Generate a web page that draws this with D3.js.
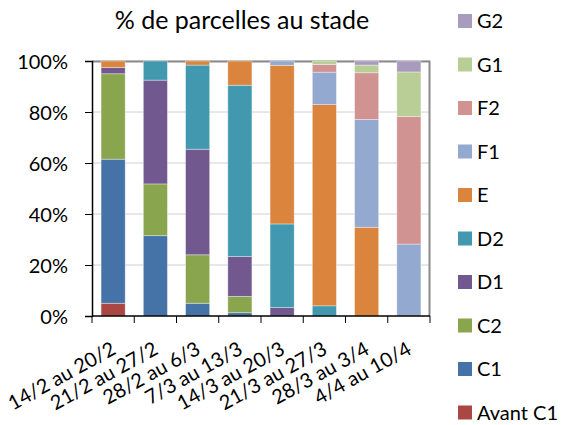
<!DOCTYPE html>
<html>
<head>
<meta charset="utf-8">
<script src="https://cdn.jsdelivr.net/npm/d3@7"></script>
<style>
  body { margin: 0; background: #fff; }
  svg text { font-family: Lato, "Open Sans", sans-serif; fill: #000; }
</style>
</head>
<body>
<div id="chart"></div>
<script>
// periods on x axis
var periods = ["14/2 au 20/2", "21/2 au 27/2", "28/2 au 6/3", "7/3 au 13/3",
               "14/3 au 20/3", "21/3 au 27/3", "28/3 au 3/4", "4/4 au 10/4"];

// stages, bottom to top
var stages = ["Avant C1", "C1", "C2", "D1", "D2", "E", "F1", "F2", "G1", "G2"];
var stageColors = ["#AA4643", "#4572A7", "#89A54E", "#71588F", "#4198AF",
                   "#DB843D", "#93A9CF", "#D19392", "#B9CD96", "#A99BBD"];

// % per stage, one value per period
var avantC1 = [5, 0, 0, 0, 0, 0, 0, 0];
var c1 = [56.5, 31.5, 5, 1.3, 0, 0, 0, 0];
var c2 = [33.5, 20.3, 19, 6.4, 0, 0, 0, 0];
var d1 = [2.5, 40.7, 41.4, 15.6, 3.3, 0, 0, 0];
var d2 = [0, 7.5, 33, 67.2, 32.8, 4, 0, 0];
var e  = [2.5, 0, 1.6, 9.5, 62.2, 78.9, 34.8, 0];
var f1 = [0, 0, 0, 0, 1.7, 12.7, 42.3, 28.2];
var f2 = [0, 0, 0, 0, 0, 3, 18.3, 50];
var g1 = [0, 0, 0, 0, 0, 1.4, 3, 17.5];
var g2 = [0, 0, 0, 0, 0, 0, 1.6, 4.3];

var yTicks = [0, 20, 40, 60, 80, 100];

var seriesValues = [avantC1, c1, c2, d1, d2, e, f1, f2, g1, g2];

var rows = periods.map(function(p, i) {
  var r = { period: p };
  stages.forEach(function(s, k) { r[s] = seriesValues[k][i]; });
  return r;
});

var W = 576, H = 425;
var margin = { top: 61, left: 92, right: 146, bottom: 109 };
var width = W - margin.left - margin.right;
var height = H - margin.top - margin.bottom;

var svg = d3.select("#chart").append("svg")
  .attr("width", W).attr("height", H);

var x = d3.scaleBand().domain(periods).range([0, width]).paddingInner(0.43).paddingOuter(0.215);
var xTickScale = d3.scaleBand().domain(periods).range([0, width]);
var y = d3.scaleLinear().domain([0, 100]).range([height, 0]);
var color = d3.scaleOrdinal().domain(stages).range(stageColors);

var g = svg.append("g").attr("transform", "translate(" + margin.left + "," + margin.top + ")");

// gridlines
g.append("g").selectAll("line")
  .data(yTicks.filter(function(d) { return d > 0; }))
  .enter().append("line")
  .attr("x1", 0).attr("x2", width)
  .attr("y1", y).attr("y2", y)
  .attr("stroke", "#d0d0d0").attr("stroke-width", 1);

// plot frame (top/right grey)
g.append("path")
  .attr("d", "M0,0.5H" + (width - 0.5) + "V" + height)
  .attr("fill", "none").attr("stroke", "#8a8a8a").attr("stroke-width", 2);

var stack = d3.stack().keys(stages);
var layers = stack(rows);

g.append("g").selectAll("g")
  .data(layers)
  .enter().append("g")
  .attr("fill", function(d) { return color(d.key); })
  .selectAll("rect")
  .data(function(d) { return d; })
  .enter().append("rect")
  .attr("x", function(d) { return x(d.data.period); })
  .attr("width", x.bandwidth())
  .attr("y", function(d) { return y(d[1]); })
  .attr("height", function(d) { return y(d[0]) - y(d[1]); })
  .attr("stroke", "rgba(255,255,255,0.45)")
  .attr("stroke-width", 0.8);

// y axis
var yAxis = g.append("g")
  .call(d3.axisLeft(y).tickValues(yTicks).tickSize(7).tickPadding(17)
    .tickFormat(function(d) { return d + "%"; }));
yAxis.select(".domain").attr("stroke", "#000").attr("stroke-width", 1.5);
yAxis.selectAll(".tick line").attr("stroke", "#000");
yAxis.selectAll("text").style("font-size", "20px").attr("dy", "0.36em");

// x axis
var xAxisG = g.append("g").attr("transform", "translate(0," + height + ")");
xAxisG.append("line").attr("x1", 0).attr("x2", width).attr("stroke", "#000").attr("stroke-width", 1.5);
xAxisG.selectAll(".xt")
  .data(periods.concat(["end"]))
  .enter().append("line")
  .attr("x1", function(d, i) { return i * xTickScale.step(); })
  .attr("x2", function(d, i) { return i * xTickScale.step(); })
  .attr("y1", 0).attr("y2", 7)
  .attr("stroke", "#000").attr("stroke-width", 1);

xAxisG.selectAll(".xlabel")
  .data(periods)
  .enter().append("text")
  .attr("class", "xlabel")
  .attr("text-anchor", "end")
  .style("font-size", "20px")
  .attr("transform", function(d) {
    return "translate(" + (x(d) + x.bandwidth() / 2 + 4) + ",37) rotate(-29)";
  })
  .text(function(d) { return d; });

// title
svg.append("text")
  .attr("x", 242).attr("y", 29)
  .attr("text-anchor", "middle")
  .style("font-size", "25px")
  .text("% de parcelles au stade");

// legend, top to bottom = G2 .. Avant C1
var legendItems = stages.slice().reverse();
var legend = svg.append("g").selectAll("g")
  .data(legendItems)
  .enter().append("g")
  .attr("transform", function(d, i) { return "translate(458," + (21 + i * 43.5) + ")"; });
legend.append("rect")
  .attr("x", 0).attr("y", -7).attr("width", 14).attr("height", 14)
  .attr("fill", function(d) { return color(d); });
legend.append("text")
  .attr("x", 19).attr("y", 0).attr("dy", "0.35em")
  .style("font-size", "20px")
  .text(function(d) { return d; });
</script>
</body>
</html>
